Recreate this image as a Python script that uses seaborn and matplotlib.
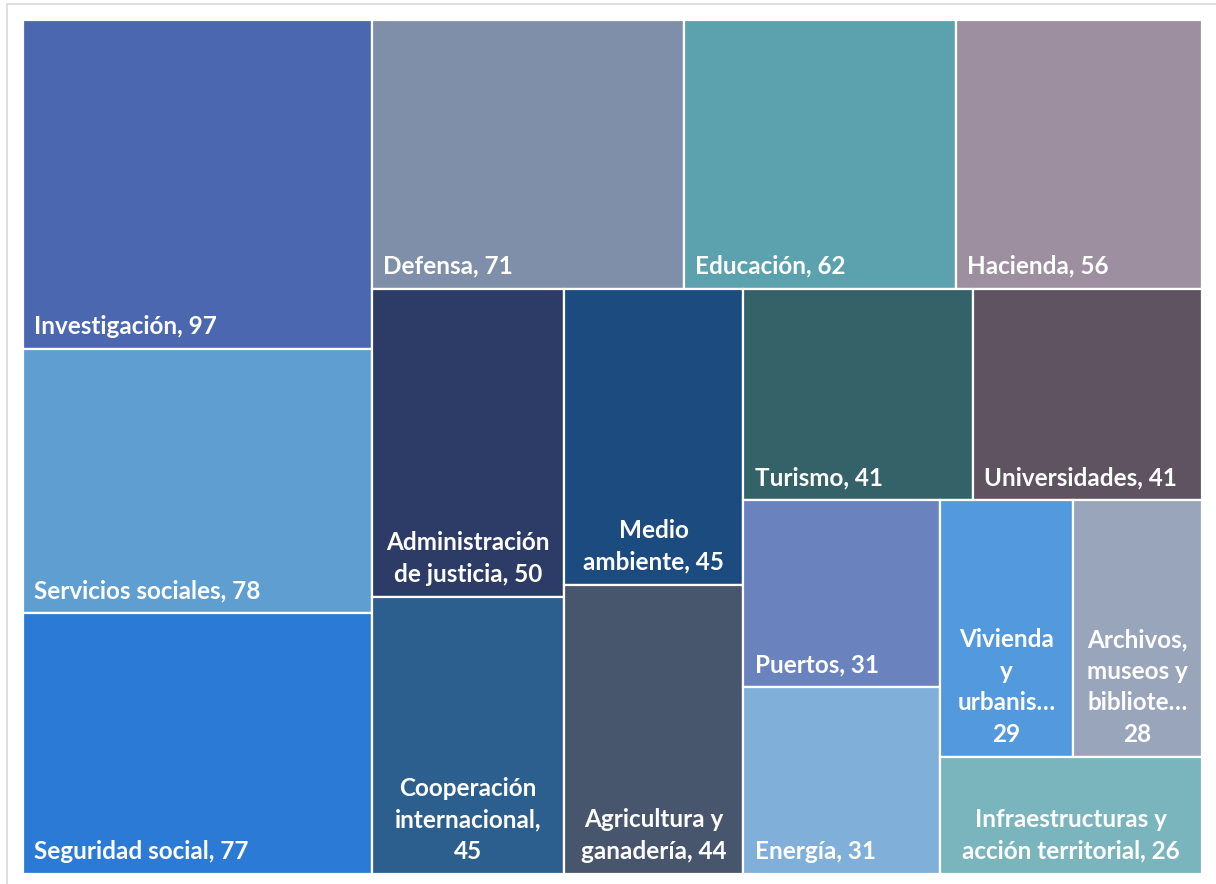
import matplotlib
matplotlib.use("Agg")
import matplotlib.pyplot as plt
import matplotlib.patches as mpatches
import seaborn as sns

# categories and values (sorted, as in the treemap)
names = ["Investigación", "Servicios sociales", "Seguridad social", "Defensa",
         "Educación", "Hacienda", "Administración de justicia",
         "Cooperación internacional", "Medio ambiente", "Agricultura y ganadería",
         "Turismo", "Universidades", "Puertos", "Energía",
         "Vivienda y urbanismo", "Archivos, museos y bibliotecas",
         "Infraestructuras y acción territorial"]
values = [97, 78, 77, 71, 62, 56, 50, 45, 45, 44, 41, 41, 31, 31, 29, 28, 26]

# labels that are wrapped / truncated in the picture
wrapped = {
    6: "Administración\nde justicia, {v}",
    7: "Cooperación\ninternacional,\n{v}",
    8: "Medio\nambiente, {v}",
    9: "Agricultura y\nganadería, {v}",
    14: "Vivienda\ny\nurbanis…\n{v}",
    15: "Archivos,\nmuseos y\nbibliote…\n{v}",
    16: "Infraestructuras y\nacción territorial, {v}",
}

# how many items go in each strip of the treemap
strips = [3, 3, 2, 2, 2, 2, 2, 1]

colors = ["#4a67af", "#5f9ed1", "#2b7bd6", "#7f8fa9", "#5ba2ae", "#9d8fa0",
          "#2d3c66", "#2c5f8d", "#1c4b80", "#47566d", "#356268", "#5f5362",
          "#6a82be", "#80afd9", "#5299de", "#99a5bb", "#7ab5be"]


def treemap(vals, groups, x, y, w, h):
    rects = []
    i = 0
    for n in groups:
        part = vals[i:i + n]
        s = sum(part)
        rest = sum(vals[i:])
        if w >= h:
            # vertical strip on the left
            cw = w * s / rest
            yy = y
            for v in part:
                rh = h * v / s
                rects.append((x, yy, cw, rh))
                yy += rh
            x += cw
            w -= cw
        else:
            # horizontal strip on top
            rh = h * s / rest
            xx = x
            for v in part:
                rw = w * v / s
                rects.append((xx, y, rw, rh))
                xx += rw
            y += rh
            h -= rh
        i += n
    return rects


sns.set_theme(style="white")
plt.rcParams["font.family"] = ["Lato", "DejaVu Sans"]

fig = plt.figure(figsize=(12.16, 8.84), dpi=100)
ax = fig.add_axes([23 / 1216, 1 - 874 / 884, (1202 - 23) / 1216, (874 - 20) / 884])

# plot area size in pixels, used for the layout
W = fig.get_figwidth() * fig.dpi * ax.get_position().width
H = fig.get_figheight() * fig.dpi * ax.get_position().height

rects = treemap(values, strips, 0, 0, W, H)

fs = 17.5
for i, (x0, y0, rw, rh) in enumerate(rects):
    ax.bar(x0, rh, width=rw, bottom=y0, align="edge", color=colors[i],
           edgecolor="white", linewidth=1.6)
    v = values[i]
    if i in wrapped:
        ax.annotate(wrapped[i].format(v=v), xy=(x0 + rw / 2, y0 + rh),
                    xytext=(0, 8), textcoords="offset points",
                    ha="center", va="bottom", multialignment="center",
                    color="white", fontsize=fs, fontweight="bold",
                    linespacing=1.45)
    else:
        ax.annotate(f"{names[i]}, {v}", xy=(x0, y0 + rh),
                    xytext=(8, 8), textcoords="offset points",
                    ha="left", va="bottom",
                    color="white", fontsize=fs, fontweight="bold")

ax.set_xlim(0, W)
ax.set_ylim(H, 0)
ax.axis("off")

# chart border (extends beyond the crop on the right and bottom)
fig.patches.append(mpatches.Rectangle((7 / 1216, -0.1), 1.2, 1 - 4 / 884 + 0.1,
                                      transform=fig.transFigure, fill=False,
                                      edgecolor="#d9d9d9", linewidth=1.2))

fig.savefig("out.png", dpi=100)
plt.close(fig)
